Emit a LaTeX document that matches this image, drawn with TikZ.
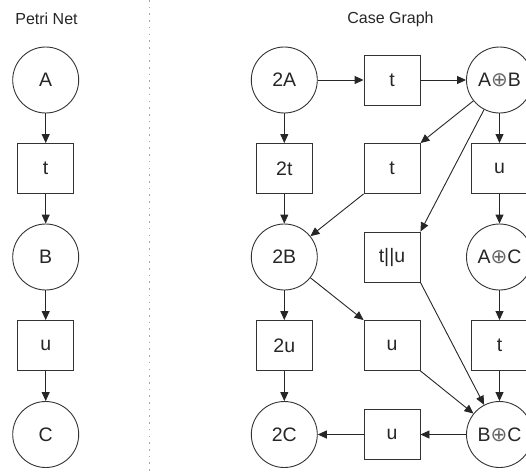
\documentclass[tikz,border=0pt]{standalone}
\usepackage{fontspec}
\setmainfont{Liberation Sans}
\newfontfamily\symfont{DejaVu Sans}
\usetikzlibrary{arrows.meta}
\newcommand{\nodefont}{\fontsize{19.5}{22}\selectfont}
\newcommand{\titlefont}{\fontsize{16}{19}\selectfont}
\newcommand{\opl}{{\symfont\fontsize{20}{22}\selectfont\color{black!60}⊕}}
\begin{document}
\begin{tikzpicture}[x=1pt,y=-1pt,
  every node/.style={text=black!85},
  place/.style={circle,draw=black!80,minimum size=66pt,inner sep=0pt,line width=0.9pt,font=\nodefont},
  trans/.style={rectangle,draw=black!80,minimum width=56pt,minimum height=50pt,inner sep=0pt,line width=0.9pt,font=\nodefont},
  arc/.style={draw=black!85,-{Triangle[length=9pt,width=8pt]},line width=0.9pt},
  ttl/.style={font=\titlefont},
  sep/.style={draw=black!35,line width=1.6pt,dash pattern=on 1.6pt off 5.1pt}]
\useasboundingbox (0,0) rectangle (526,471);
% separator
\coordinate (s1) at (149.5,0);
\coordinate (s2) at (149.5,471);
\draw[sep] (s1) -- (s2);
% titles
\node[ttl] (tp) at (46.5,19) {Petri Net};
\node[ttl] (tc) at (390.5,19) {Case Graph};
% Petri net
\node[place] (PA) at (45.7,80) {A};
\node[trans] (Pt) at (45.7,168.5) {t};
\node[place] (PB) at (45.7,257) {B};
\node[trans] (Pu) at (45.7,345.5) {u};
\node[place] (PC) at (45.7,434.5) {C};
\draw[arc] (PA) -- (Pt);
\draw[arc] (Pt) -- (PB);
\draw[arc] (PB) -- (Pu);
\draw[arc] (Pu) -- (PC);
% Case graph
\node[place] (A2) at (284.3,80) {2A};
\node[trans] (t1) at (392,80) {t};
\node[place] (AB) at (499.5,80) {A\opl B};
\node[trans] (t2x) at (284.3,168.5) {2t};
\node[trans] (t2) at (392,168.5) {t};
\node[trans] (u1) at (499.5,168.5) {u};
\node[place] (B2) at (284.3,257) {2B};
\node[trans] (tu) at (392,257) {t||u};
\node[place] (AC) at (499.5,257) {A\opl C};
\node[trans] (u2x) at (284.3,345.5) {2u};
\node[trans] (u2) at (392,345.5) {u};
\node[trans] (t3) at (499.5,345.5) {t};
\node[place] (C2) at (284.3,434.5) {2C};
\node[trans] (u3) at (392,434.5) {u};
\node[place] (BC) at (499.5,434.5) {B\opl C};
\draw[arc] (A2) -- (t1);
\draw[arc] (t1) -- (AB);
\draw[arc] (A2) -- (t2x);
\draw[arc] (t2x) -- (B2);
\draw[arc] (B2) -- (u2x);
\draw[arc] (u2x) -- (C2);
\draw[arc] (AB) -- (t2.north east);
\draw[arc] (t2.south west) -- (B2);
\draw[arc] (AB) -- (tu.north east);
\draw[arc] (AB) -- (u1);
\draw[arc] (u1) -- (AC);
\draw[arc] (AC) -- (t3);
\draw[arc] (t3) -- (BC);
\draw[arc] (B2) -- (u2.north west);
\draw[arc] (u2.south east) -- (BC);
\draw[arc] (tu.south east) -- (BC);
\draw[arc] (BC) -- (u3);
\draw[arc] (u3) -- (C2);
\end{tikzpicture}
\end{document}
